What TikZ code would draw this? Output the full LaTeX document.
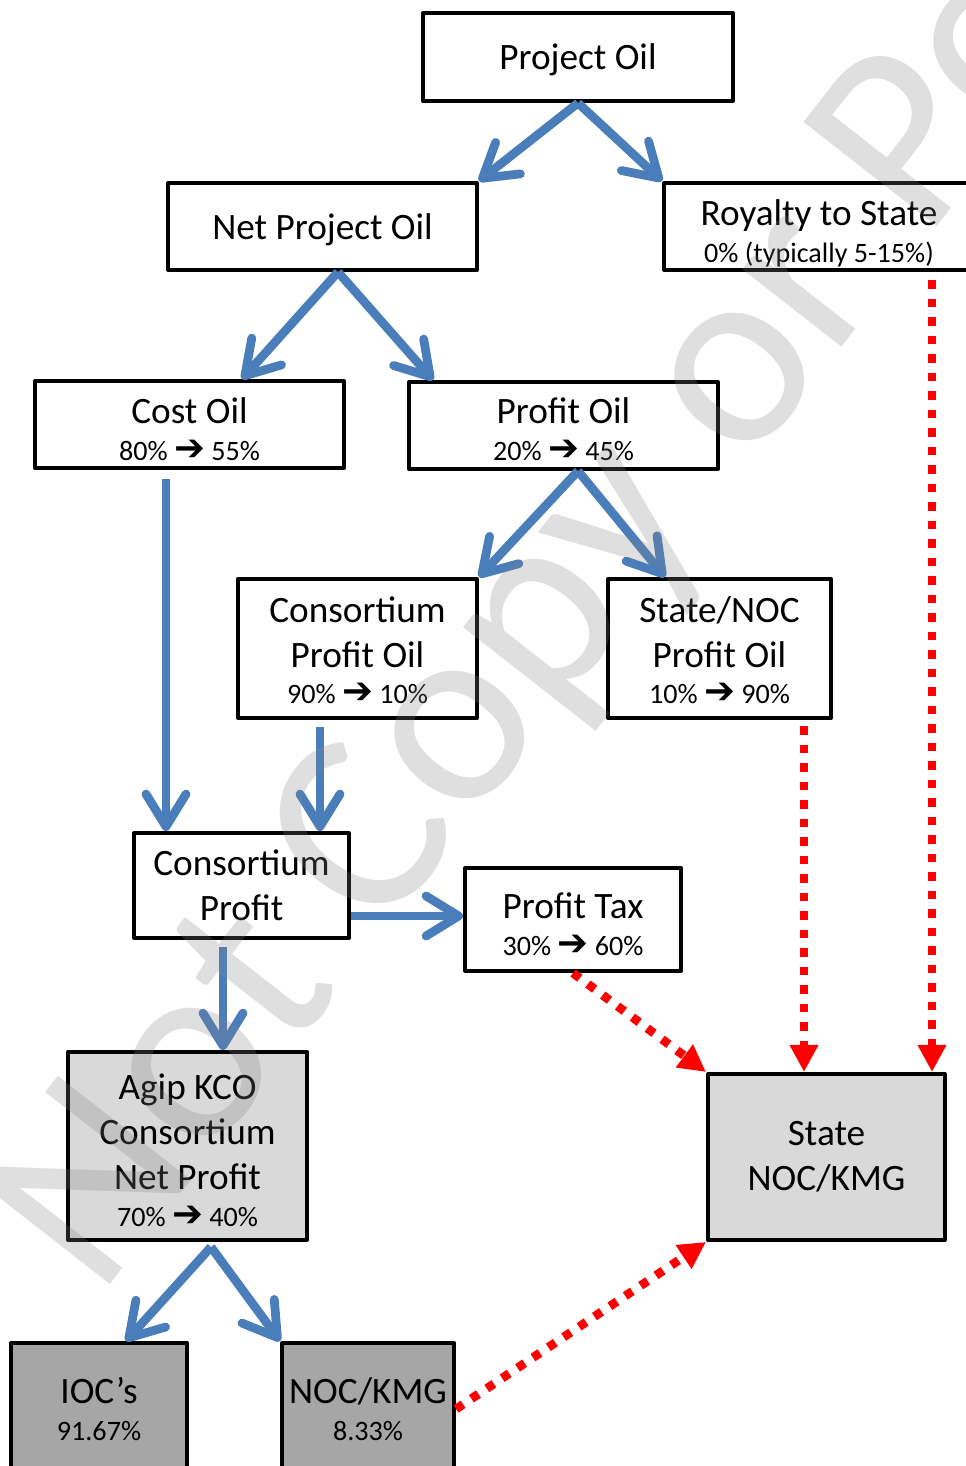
\documentclass[tikz,border=0pt]{standalone}
\usepackage{fontspec}
\setmainfont{Carlito}
\newfontfamily\arrowfont{DejaVu Sans}
\usetikzlibrary{arrows.meta}
\definecolor{flowblue}{RGB}{74,126,187}
\definecolor{lightbox}{RGB}{217,217,217}
\definecolor{darkbox}{RGB}{166,166,166}
\newcommand{\bigline}{\fontsize{21.2}{25.6}\selectfont}
\newcommand{\smallline}{\fontsize{16}{18}\selectfont}
\newcommand{\drop}[1]{\rule{0pt}{#1}}
\newcommand{\pctchange}[2]{{\smallline #1 \smash{\fontsize{21}{21}\arrowfont\bfseries ➔} #2}}
\tikzset{
    box/.style = {draw, line width=2.3pt, line join=round, fill=white, align=center, inner sep=0pt, font=\bigline},
    boxsize/.style 2 args = {minimum width=#1*0.2mm, minimum height=#2*0.2mm},
    flow/.style = {flowblue, line width=5pt, -{Straight Barb[length=6.5mm,width=8mm,round]}},
    tie/.style = {red, line width=5pt, dash pattern=on 1.7mm off 2mm, -{Triangle[length=5.4mm,width=5.4mm]}}
}
\begin{document}
\begin{tikzpicture}[x = 0.2mm, y = -0.2mm]
    \useasboundingbox (0,0) rectangle (966,1466);
    \clip(0,0) rectangle (966,1466);
    \node[box, boxsize={310}{88}] (proj) at (578,57) {\drop{17.8pt}Project Oil};
    \node[box, boxsize={309}{87}] (net) at (322.5,226.5) {\drop{18.9pt}Net Project Oil};
    \node[box, boxsize={310}{87}] (roy) at (819,226.5) {\drop{22.3pt}Royalty to State\\[-4.6pt]{\smallline 0\% (typically 5-15\%)}};
    \node[box, boxsize={309}{87}] (cost) at (189.5,424.5) {\drop{20pt}Cost Oil\\[-4.6pt]\pctchange{80\%}{55\%}};
    \node[box, boxsize={309}{87}] (profit) at (563.5,425.5) {\drop{18.9pt}Profit Oil\\[-4.6pt]\pctchange{20\%}{45\%}};
    \node[box, boxsize={239}{139}] (cpo) at (357.5,648.5) {\drop{16.6pt}Consortium\\Profit Oil\\[-4.6pt]\pctchange{90\%}{10\%}};
    \node[box, boxsize={223}{139}] (spo) at (719.5,648.5) {\drop{16.6pt}State/NOC\\Profit Oil\\[-4.6pt]\pctchange{10\%}{90\%}};
    \node[box, boxsize={215}{105}] (cp) at (241.5,885.5) {Consortium\\Profit};
    \node[box, boxsize={216}{103}] (tax) at (573,919.5) {\drop{20pt}Profit Tax\\[-4.6pt]\pctchange{30\%}{60\%}};
    \node[box, fill=lightbox, boxsize={239}{188}] (agip) at (187.5,1146) {\drop{19.5pt}Agip KCO\\Consortium\\Net Profit\\[-4.6pt]\pctchange{70\%}{40\%}};
    \node[box, fill=lightbox, boxsize={237}{166}] (state) at (826.5,1157) {State\\NOC/KMG};
    \node[box, fill=darkbox, boxsize={176}{132}] (ioc) at (99,1409) {IOC’s\\[-4.6pt]{\smallline 91.67\%}};
    \node[box, fill=darkbox, boxsize={172}{132}] (noc) at (368,1409) {NOC/KMG\\[-4.6pt]{\smallline 8.33\%}};
    \coordinate (c1) at ([xshift=-4.7mm,yshift=-1.8mm]cost.south);
    \coordinate (c2) at ([xshift=-7.5mm,yshift=-1.4mm]cpo.south);
    \coordinate (c3) at ([yshift=-6.1mm]cp.east);
    \coordinate (c4) at ([xshift=-3.7mm,yshift=-1.4mm]cp.south);
    \coordinate (r1) at ([xshift=22.6mm,yshift=-1.6mm]roy.south);
    \coordinate (r2) at ([xshift=16.9mm,yshift=-1.2mm]spo.south);
    \draw[flow] (proj.south) -- (net.north east);
    \draw[flow] (proj.south) -- (roy.north west);
    \draw[flow] ([xshift=3.1mm]net.south) -- ([xshift=10.5mm]cost.north);
    \draw[flow] ([xshift=3.1mm]net.south) -- ([xshift=-26.1mm]profit.north);
    \draw[flow] ([xshift=2.9mm]profit.south) -- (cpo.north east);
    \draw[flow] ([xshift=2.9mm]profit.south) -- ([xshift=-10.9mm]spo.north);
    \draw[flow] (c1) -- (c1 |- cp.north);
    \draw[flow] (c2) -- (c2 |- cp.north);
    \draw[flow] (c3) -- (c3 -| tax.west);
    \draw[flow] (c4) -- (c4 |- agip.north);
    \draw[flow] ([xshift=4.7mm,yshift=-1mm]agip.south) -- ([xshift=5.4mm]ioc.north);
    \draw[flow] ([xshift=4.7mm,yshift=-1mm]agip.south) -- (noc.north west);
    \draw[tie] (r1) -- (r1 |- state.north);
    \draw[tie] (r2) -- (r2 |- state.north);
    \draw[tie] (tax.south) -- (state.north west);
    \draw[tie] (noc.east) -- (state.south west);
    \node[rotate=52, anchor=base west, inner sep=0pt, text=black!50, opacity=0.25, font=\fontsize{150}{150}\selectfont] (stamp) at (98,1300) {Not Copy or Po};
\end{tikzpicture}
\end{document}
